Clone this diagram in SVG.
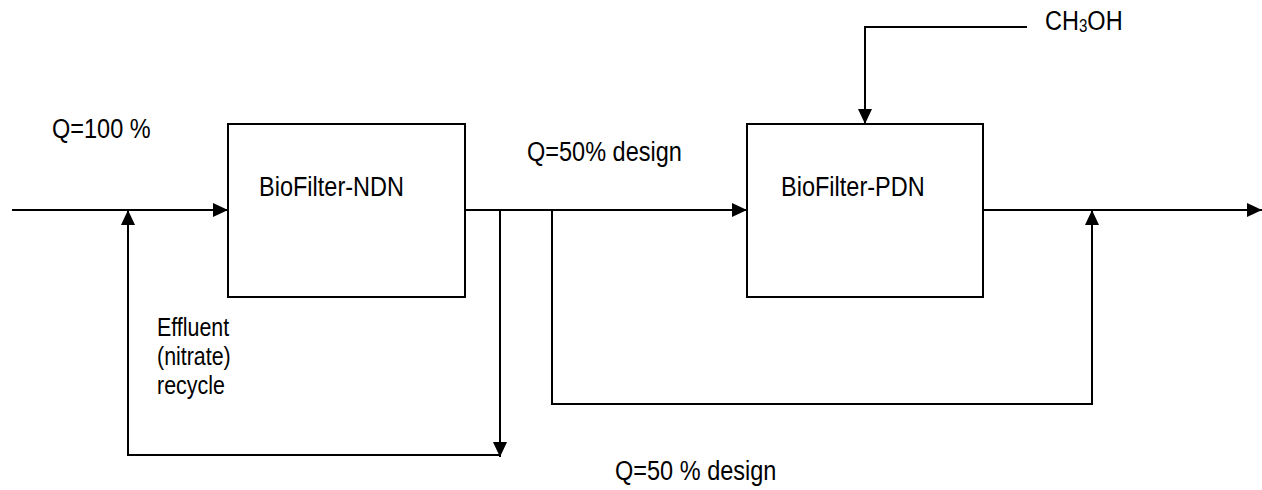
<svg xmlns="http://www.w3.org/2000/svg" width="1262" height="490" viewBox="0 0 1262 490">
  <style>
    .box { fill: #ffffff; stroke: #000000; stroke-width: 2; }
    .flow { fill: none; stroke: #000000; stroke-width: 2; }
    .lbl { font-family: "Liberation Sans", Arial, sans-serif; font-size: 28px; fill: #000000; }
    .sm { font-family: "Liberation Sans", Arial, sans-serif; font-size: 25.5px; fill: #000000; }
  </style>
  <defs>
    <marker id="arrow" markerUnits="userSpaceOnUse" markerWidth="16" markerHeight="16" refX="15" refY="7" orient="auto">
      <path d="M0,0 L15,7 L0,14 Z" fill="#000000"/>
    </marker>
  </defs>
  <rect width="1262" height="490" fill="#ffffff"/>

  <!-- process units -->
  <g id="biofilter-ndn">
    <rect class="box" x="228" y="124" width="237" height="173"/>
    <text class="lbl" transform="translate(259,196) scale(0.84,1)">BioFilter-NDN</text>
  </g>
  <g id="biofilter-pdn">
    <rect class="box" x="747" y="124" width="236" height="173"/>
    <text class="lbl" transform="translate(781,196) scale(0.84,1)">BioFilter-PDN</text>
  </g>

  <!-- flow lines -->
  <g id="connectors">
    <!-- influent -->
    <path class="flow" d="M12,210 H228" marker-end="url(#arrow)"/>
    <!-- NDN effluent to PDN -->
    <path class="flow" d="M465,210 H747" marker-end="url(#arrow)"/>
    <!-- nitrate recycle -->
    <path class="flow" d="M500,210 V457" marker-end="url(#arrow)"/>
    <path class="flow" d="M500,455 H128 V210" marker-end="url(#arrow)"/>
    <!-- PDN bypass -->
    <path class="flow" d="M552,210 V404 H1092 V210" marker-end="url(#arrow)"/>
    <!-- final effluent -->
    <path class="flow" d="M983,210 H1262" marker-end="url(#arrow)"/>
    <!-- methanol dosing -->
    <path class="flow" d="M1027,27 H865 V124" marker-end="url(#arrow)"/>
  </g>

  <!-- labels -->
  <g id="labels">
    <text class="lbl" transform="translate(52,138) scale(0.84,1)">Q=100 %</text>
    <text class="lbl" transform="translate(527,161) scale(0.84,1)">Q=50% design</text>
    <text class="lbl" transform="translate(615,480) scale(0.84,1)">Q=50 % design</text>
    <text class="lbl" transform="translate(1045,30) scale(0.84,1)">CH<tspan font-size="18" dy="2">3</tspan><tspan dy="-2">OH</tspan></text>
    <text class="sm" transform="translate(157,336) scale(0.84,1)">Effluent</text>
    <text class="sm" transform="translate(157,365) scale(0.84,1)">(nitrate)</text>
    <text class="sm" transform="translate(157,394) scale(0.84,1)">recycle</text>
  </g>
</svg>
